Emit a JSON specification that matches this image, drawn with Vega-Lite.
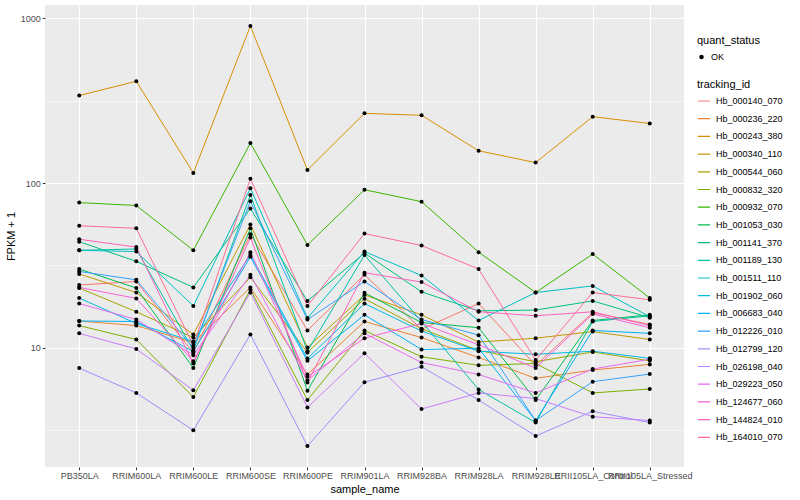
{
"$schema": "https://vega.github.io/schema/vega-lite/v6.json",
"autosize": {"type": "none"},
"padding": {"left": 45, "top": 5, "right": 116, "bottom": 33},
"width": 639,
"height": 462,
"background": "white",
"config": {
  "view": {"fill": "#EBEBEB", "stroke": null},
  "font": "Liberation Sans",
  "axis": {"domain": false, "gridColor": "white", "gridWidth": 1.1, "tickColor": "#333333", "tickSize": 2.75, "labelColor": "#4D4D4D", "labelFontSize": 9, "labelPadding": 2, "titleFontSize": 11, "titleFontWeight": "normal", "titleColor": "black"},
  "legend": {"titleFontSize": 11, "titleFontWeight": "normal", "titleColor": "black", "labelFontSize": 9, "labelColor": "black", "padding": 0, "titlePadding": 4, "clipHeight": 14, "rowPadding": 3.7, "labelOffset": 5}
},
"datasets": {
"rows": [
{"tracking_id":"Hb_000140_070","sample_name":"PB350LA","fpkm":24,"quant_status":"OK"},
{"tracking_id":"Hb_000140_070","sample_name":"RRIM600LA","fpkm":25.2,"quant_status":"OK"},
{"tracking_id":"Hb_000140_070","sample_name":"RRIM600LE","fpkm":9.3,"quant_status":"OK"},
{"tracking_id":"Hb_000140_070","sample_name":"RRIM600SE","fpkm":48.9,"quant_status":"OK"},
{"tracking_id":"Hb_000140_070","sample_name":"RRIM600PE","fpkm":12.7,"quant_status":"OK"},
{"tracking_id":"Hb_000140_070","sample_name":"RRIM901LA","fpkm":27.7,"quant_status":"OK"},
{"tracking_id":"Hb_000140_070","sample_name":"RRIM928BA","fpkm":12.9,"quant_status":"OK"},
{"tracking_id":"Hb_000140_070","sample_name":"RRIM928LA","fpkm":18.5,"quant_status":"OK"},
{"tracking_id":"Hb_000140_070","sample_name":"RRIM928LE","fpkm":7.8,"quant_status":"OK"},
{"tracking_id":"Hb_000140_070","sample_name":"RRII105LA_Control","fpkm":16.3,"quant_status":"OK"},
{"tracking_id":"Hb_000140_070","sample_name":"RRII105LA_Stressed","fpkm":13.8,"quant_status":"OK"},
{"tracking_id":"Hb_000236_220","sample_name":"PB350LA","fpkm":14.5,"quant_status":"OK"},
{"tracking_id":"Hb_000236_220","sample_name":"RRIM600LA","fpkm":13.6,"quant_status":"OK"},
{"tracking_id":"Hb_000236_220","sample_name":"RRIM600LE","fpkm":10.7,"quant_status":"OK"},
{"tracking_id":"Hb_000236_220","sample_name":"RRIM600SE","fpkm":23.2,"quant_status":"OK"},
{"tracking_id":"Hb_000236_220","sample_name":"RRIM600PE","fpkm":6.86,"quant_status":"OK"},
{"tracking_id":"Hb_000236_220","sample_name":"RRIM901LA","fpkm":14.4,"quant_status":"OK"},
{"tracking_id":"Hb_000236_220","sample_name":"RRIM928BA","fpkm":11.5,"quant_status":"OK"},
{"tracking_id":"Hb_000236_220","sample_name":"RRIM928LA","fpkm":8.7,"quant_status":"OK"},
{"tracking_id":"Hb_000236_220","sample_name":"RRIM928LE","fpkm":6.5,"quant_status":"OK"},
{"tracking_id":"Hb_000236_220","sample_name":"RRII105LA_Control","fpkm":7.3,"quant_status":"OK"},
{"tracking_id":"Hb_000236_220","sample_name":"RRII105LA_Stressed","fpkm":7.9,"quant_status":"OK"},
{"tracking_id":"Hb_000243_380","sample_name":"PB350LA","fpkm":340,"quant_status":"OK"},
{"tracking_id":"Hb_000243_380","sample_name":"RRIM600LA","fpkm":415,"quant_status":"OK"},
{"tracking_id":"Hb_000243_380","sample_name":"RRIM600LE","fpkm":115,"quant_status":"OK"},
{"tracking_id":"Hb_000243_380","sample_name":"RRIM600SE","fpkm":900,"quant_status":"OK"},
{"tracking_id":"Hb_000243_380","sample_name":"RRIM600PE","fpkm":120,"quant_status":"OK"},
{"tracking_id":"Hb_000243_380","sample_name":"RRIM901LA","fpkm":265,"quant_status":"OK"},
{"tracking_id":"Hb_000243_380","sample_name":"RRIM928BA","fpkm":258,"quant_status":"OK"},
{"tracking_id":"Hb_000243_380","sample_name":"RRIM928LA","fpkm":157,"quant_status":"OK"},
{"tracking_id":"Hb_000243_380","sample_name":"RRIM928LE","fpkm":133,"quant_status":"OK"},
{"tracking_id":"Hb_000243_380","sample_name":"RRII105LA_Control","fpkm":253,"quant_status":"OK"},
{"tracking_id":"Hb_000243_380","sample_name":"RRII105LA_Stressed","fpkm":230,"quant_status":"OK"},
{"tracking_id":"Hb_000340_110","sample_name":"PB350LA","fpkm":28,"quant_status":"OK"},
{"tracking_id":"Hb_000340_110","sample_name":"RRIM600LA","fpkm":21.6,"quant_status":"OK"},
{"tracking_id":"Hb_000340_110","sample_name":"RRIM600LE","fpkm":12.0,"quant_status":"OK"},
{"tracking_id":"Hb_000340_110","sample_name":"RRIM600SE","fpkm":55.9,"quant_status":"OK"},
{"tracking_id":"Hb_000340_110","sample_name":"RRIM600PE","fpkm":10,"quant_status":"OK"},
{"tracking_id":"Hb_000340_110","sample_name":"RRIM901LA","fpkm":20.9,"quant_status":"OK"},
{"tracking_id":"Hb_000340_110","sample_name":"RRIM928BA","fpkm":15.8,"quant_status":"OK"},
{"tracking_id":"Hb_000340_110","sample_name":"RRIM928LA","fpkm":10.8,"quant_status":"OK"},
{"tracking_id":"Hb_000340_110","sample_name":"RRIM928LE","fpkm":11.4,"quant_status":"OK"},
{"tracking_id":"Hb_000340_110","sample_name":"RRII105LA_Control","fpkm":12.5,"quant_status":"OK"},
{"tracking_id":"Hb_000340_110","sample_name":"RRII105LA_Stressed","fpkm":11.2,"quant_status":"OK"},
{"tracking_id":"Hb_000544_060","sample_name":"PB350LA","fpkm":23,"quant_status":"OK"},
{"tracking_id":"Hb_000544_060","sample_name":"RRIM600LA","fpkm":16.5,"quant_status":"OK"},
{"tracking_id":"Hb_000544_060","sample_name":"RRIM600LE","fpkm":11.5,"quant_status":"OK"},
{"tracking_id":"Hb_000544_060","sample_name":"RRIM600SE","fpkm":26.7,"quant_status":"OK"},
{"tracking_id":"Hb_000544_060","sample_name":"RRIM600PE","fpkm":9.33,"quant_status":"OK"},
{"tracking_id":"Hb_000544_060","sample_name":"RRIM901LA","fpkm":19.8,"quant_status":"OK"},
{"tracking_id":"Hb_000544_060","sample_name":"RRIM928BA","fpkm":13.0,"quant_status":"OK"},
{"tracking_id":"Hb_000544_060","sample_name":"RRIM928LA","fpkm":9.6,"quant_status":"OK"},
{"tracking_id":"Hb_000544_060","sample_name":"RRIM928LE","fpkm":8.2,"quant_status":"OK"},
{"tracking_id":"Hb_000544_060","sample_name":"RRII105LA_Control","fpkm":9.4,"quant_status":"OK"},
{"tracking_id":"Hb_000544_060","sample_name":"RRII105LA_Stressed","fpkm":8.3,"quant_status":"OK"},
{"tracking_id":"Hb_000832_320","sample_name":"PB350LA","fpkm":13.6,"quant_status":"OK"},
{"tracking_id":"Hb_000832_320","sample_name":"RRIM600LA","fpkm":11.2,"quant_status":"OK"},
{"tracking_id":"Hb_000832_320","sample_name":"RRIM600LE","fpkm":5.0,"quant_status":"OK"},
{"tracking_id":"Hb_000832_320","sample_name":"RRIM600SE","fpkm":22.5,"quant_status":"OK"},
{"tracking_id":"Hb_000832_320","sample_name":"RRIM600PE","fpkm":4.8,"quant_status":"OK"},
{"tracking_id":"Hb_000832_320","sample_name":"RRIM901LA","fpkm":12.7,"quant_status":"OK"},
{"tracking_id":"Hb_000832_320","sample_name":"RRIM928BA","fpkm":8.79,"quant_status":"OK"},
{"tracking_id":"Hb_000832_320","sample_name":"RRIM928LA","fpkm":7.8,"quant_status":"OK"},
{"tracking_id":"Hb_000832_320","sample_name":"RRIM928LE","fpkm":8.0,"quant_status":"OK"},
{"tracking_id":"Hb_000832_320","sample_name":"RRII105LA_Control","fpkm":5.3,"quant_status":"OK"},
{"tracking_id":"Hb_000832_320","sample_name":"RRII105LA_Stressed","fpkm":5.6,"quant_status":"OK"},
{"tracking_id":"Hb_000932_070","sample_name":"PB350LA","fpkm":76,"quant_status":"OK"},
{"tracking_id":"Hb_000932_070","sample_name":"RRIM600LA","fpkm":73,"quant_status":"OK"},
{"tracking_id":"Hb_000932_070","sample_name":"RRIM600LE","fpkm":39,"quant_status":"OK"},
{"tracking_id":"Hb_000932_070","sample_name":"RRIM600SE","fpkm":175,"quant_status":"OK"},
{"tracking_id":"Hb_000932_070","sample_name":"RRIM600PE","fpkm":42,"quant_status":"OK"},
{"tracking_id":"Hb_000932_070","sample_name":"RRIM901LA","fpkm":91,"quant_status":"OK"},
{"tracking_id":"Hb_000932_070","sample_name":"RRIM928BA","fpkm":77,"quant_status":"OK"},
{"tracking_id":"Hb_000932_070","sample_name":"RRIM928LA","fpkm":38,"quant_status":"OK"},
{"tracking_id":"Hb_000932_070","sample_name":"RRIM928LE","fpkm":21.6,"quant_status":"OK"},
{"tracking_id":"Hb_000932_070","sample_name":"RRII105LA_Control","fpkm":37,"quant_status":"OK"},
{"tracking_id":"Hb_000932_070","sample_name":"RRII105LA_Stressed","fpkm":20,"quant_status":"OK"},
{"tracking_id":"Hb_001053_030","sample_name":"PB350LA","fpkm":30,"quant_status":"OK"},
{"tracking_id":"Hb_001053_030","sample_name":"RRIM600LA","fpkm":23,"quant_status":"OK"},
{"tracking_id":"Hb_001053_030","sample_name":"RRIM600LE","fpkm":7.5,"quant_status":"OK"},
{"tracking_id":"Hb_001053_030","sample_name":"RRIM600SE","fpkm":53,"quant_status":"OK"},
{"tracking_id":"Hb_001053_030","sample_name":"RRIM600PE","fpkm":5.47,"quant_status":"OK"},
{"tracking_id":"Hb_001053_030","sample_name":"RRIM901LA","fpkm":21.5,"quant_status":"OK"},
{"tracking_id":"Hb_001053_030","sample_name":"RRIM928BA","fpkm":14.2,"quant_status":"OK"},
{"tracking_id":"Hb_001053_030","sample_name":"RRIM928LA","fpkm":13.2,"quant_status":"OK"},
{"tracking_id":"Hb_001053_030","sample_name":"RRIM928LE","fpkm":4.8,"quant_status":"OK"},
{"tracking_id":"Hb_001053_030","sample_name":"RRII105LA_Control","fpkm":14.6,"quant_status":"OK"},
{"tracking_id":"Hb_001053_030","sample_name":"RRII105LA_Stressed","fpkm":15.8,"quant_status":"OK"},
{"tracking_id":"Hb_001141_370","sample_name":"PB350LA","fpkm":44,"quant_status":"OK"},
{"tracking_id":"Hb_001141_370","sample_name":"RRIM600LA","fpkm":33.4,"quant_status":"OK"},
{"tracking_id":"Hb_001141_370","sample_name":"RRIM600LE","fpkm":23.2,"quant_status":"OK"},
{"tracking_id":"Hb_001141_370","sample_name":"RRIM600SE","fpkm":70,"quant_status":"OK"},
{"tracking_id":"Hb_001141_370","sample_name":"RRIM600PE","fpkm":19.2,"quant_status":"OK"},
{"tracking_id":"Hb_001141_370","sample_name":"RRIM901LA","fpkm":37.5,"quant_status":"OK"},
{"tracking_id":"Hb_001141_370","sample_name":"RRIM928BA","fpkm":21.8,"quant_status":"OK"},
{"tracking_id":"Hb_001141_370","sample_name":"RRIM928LA","fpkm":16.7,"quant_status":"OK"},
{"tracking_id":"Hb_001141_370","sample_name":"RRIM928LE","fpkm":16.9,"quant_status":"OK"},
{"tracking_id":"Hb_001141_370","sample_name":"RRII105LA_Control","fpkm":19.2,"quant_status":"OK"},
{"tracking_id":"Hb_001141_370","sample_name":"RRII105LA_Stressed","fpkm":15.2,"quant_status":"OK"},
{"tracking_id":"Hb_001189_130","sample_name":"PB350LA","fpkm":39,"quant_status":"OK"},
{"tracking_id":"Hb_001189_130","sample_name":"RRIM600LA","fpkm":39.7,"quant_status":"OK"},
{"tracking_id":"Hb_001189_130","sample_name":"RRIM600LE","fpkm":9.6,"quant_status":"OK"},
{"tracking_id":"Hb_001189_130","sample_name":"RRIM600SE","fpkm":84.6,"quant_status":"OK"},
{"tracking_id":"Hb_001189_130","sample_name":"RRIM600PE","fpkm":9.5,"quant_status":"OK"},
{"tracking_id":"Hb_001189_130","sample_name":"RRIM901LA","fpkm":36.5,"quant_status":"OK"},
{"tracking_id":"Hb_001189_130","sample_name":"RRIM928BA","fpkm":14.4,"quant_status":"OK"},
{"tracking_id":"Hb_001189_130","sample_name":"RRIM928LA","fpkm":5.56,"quant_status":"OK"},
{"tracking_id":"Hb_001189_130","sample_name":"RRIM928LE","fpkm":3.5,"quant_status":"OK"},
{"tracking_id":"Hb_001189_130","sample_name":"RRII105LA_Control","fpkm":14.4,"quant_status":"OK"},
{"tracking_id":"Hb_001189_130","sample_name":"RRII105LA_Stressed","fpkm":15.6,"quant_status":"OK"},
{"tracking_id":"Hb_001511_110","sample_name":"PB350LA","fpkm":39,"quant_status":"OK"},
{"tracking_id":"Hb_001511_110","sample_name":"RRIM600LA","fpkm":38.3,"quant_status":"OK"},
{"tracking_id":"Hb_001511_110","sample_name":"RRIM600LE","fpkm":17.9,"quant_status":"OK"},
{"tracking_id":"Hb_001511_110","sample_name":"RRIM600SE","fpkm":93,"quant_status":"OK"},
{"tracking_id":"Hb_001511_110","sample_name":"RRIM600PE","fpkm":15.1,"quant_status":"OK"},
{"tracking_id":"Hb_001511_110","sample_name":"RRIM901LA","fpkm":38.3,"quant_status":"OK"},
{"tracking_id":"Hb_001511_110","sample_name":"RRIM928BA","fpkm":27.4,"quant_status":"OK"},
{"tracking_id":"Hb_001511_110","sample_name":"RRIM928LA","fpkm":14.6,"quant_status":"OK"},
{"tracking_id":"Hb_001511_110","sample_name":"RRIM928LE","fpkm":21.6,"quant_status":"OK"},
{"tracking_id":"Hb_001511_110","sample_name":"RRII105LA_Control","fpkm":23.7,"quant_status":"OK"},
{"tracking_id":"Hb_001511_110","sample_name":"RRII105LA_Stressed","fpkm":15.4,"quant_status":"OK"},
{"tracking_id":"Hb_001902_060","sample_name":"PB350LA","fpkm":20,"quant_status":"OK"},
{"tracking_id":"Hb_001902_060","sample_name":"RRIM600LA","fpkm":14,"quant_status":"OK"},
{"tracking_id":"Hb_001902_060","sample_name":"RRIM600LE","fpkm":10.9,"quant_status":"OK"},
{"tracking_id":"Hb_001902_060","sample_name":"RRIM600SE","fpkm":36.7,"quant_status":"OK"},
{"tracking_id":"Hb_001902_060","sample_name":"RRIM600PE","fpkm":8.58,"quant_status":"OK"},
{"tracking_id":"Hb_001902_060","sample_name":"RRIM901LA","fpkm":18.5,"quant_status":"OK"},
{"tracking_id":"Hb_001902_060","sample_name":"RRIM928BA","fpkm":12.6,"quant_status":"OK"},
{"tracking_id":"Hb_001902_060","sample_name":"RRIM928LA","fpkm":9.5,"quant_status":"OK"},
{"tracking_id":"Hb_001902_060","sample_name":"RRIM928LE","fpkm":9.1,"quant_status":"OK"},
{"tracking_id":"Hb_001902_060","sample_name":"RRII105LA_Control","fpkm":9.5,"quant_status":"OK"},
{"tracking_id":"Hb_001902_060","sample_name":"RRII105LA_Stressed","fpkm":8.6,"quant_status":"OK"},
{"tracking_id":"Hb_006683_040","sample_name":"PB350LA","fpkm":14.5,"quant_status":"OK"},
{"tracking_id":"Hb_006683_040","sample_name":"RRIM600LA","fpkm":14.4,"quant_status":"OK"},
{"tracking_id":"Hb_006683_040","sample_name":"RRIM600LE","fpkm":9.46,"quant_status":"OK"},
{"tracking_id":"Hb_006683_040","sample_name":"RRIM600SE","fpkm":35.6,"quant_status":"OK"},
{"tracking_id":"Hb_006683_040","sample_name":"RRIM600PE","fpkm":8.3,"quant_status":"OK"},
{"tracking_id":"Hb_006683_040","sample_name":"RRIM901LA","fpkm":15.8,"quant_status":"OK"},
{"tracking_id":"Hb_006683_040","sample_name":"RRIM928BA","fpkm":9.73,"quant_status":"OK"},
{"tracking_id":"Hb_006683_040","sample_name":"RRIM928LA","fpkm":9.9,"quant_status":"OK"},
{"tracking_id":"Hb_006683_040","sample_name":"RRIM928LE","fpkm":3.6,"quant_status":"OK"},
{"tracking_id":"Hb_006683_040","sample_name":"RRII105LA_Control","fpkm":12.7,"quant_status":"OK"},
{"tracking_id":"Hb_006683_040","sample_name":"RRII105LA_Stressed","fpkm":12.2,"quant_status":"OK"},
{"tracking_id":"Hb_012226_010","sample_name":"PB350LA","fpkm":29,"quant_status":"OK"},
{"tracking_id":"Hb_012226_010","sample_name":"RRIM600LA","fpkm":25.8,"quant_status":"OK"},
{"tracking_id":"Hb_012226_010","sample_name":"RRIM600LE","fpkm":9.96,"quant_status":"OK"},
{"tracking_id":"Hb_012226_010","sample_name":"RRIM600SE","fpkm":77.5,"quant_status":"OK"},
{"tracking_id":"Hb_012226_010","sample_name":"RRIM600PE","fpkm":14.8,"quant_status":"OK"},
{"tracking_id":"Hb_012226_010","sample_name":"RRIM901LA","fpkm":25.2,"quant_status":"OK"},
{"tracking_id":"Hb_012226_010","sample_name":"RRIM928BA","fpkm":14.8,"quant_status":"OK"},
{"tracking_id":"Hb_012226_010","sample_name":"RRIM928LA","fpkm":11.9,"quant_status":"OK"},
{"tracking_id":"Hb_012226_010","sample_name":"RRIM928LE","fpkm":3.6,"quant_status":"OK"},
{"tracking_id":"Hb_012226_010","sample_name":"RRII105LA_Control","fpkm":6.2,"quant_status":"OK"},
{"tracking_id":"Hb_012226_010","sample_name":"RRII105LA_Stressed","fpkm":6.9,"quant_status":"OK"},
{"tracking_id":"Hb_012799_120","sample_name":"PB350LA","fpkm":7.5,"quant_status":"OK"},
{"tracking_id":"Hb_012799_120","sample_name":"RRIM600LA","fpkm":5.3,"quant_status":"OK"},
{"tracking_id":"Hb_012799_120","sample_name":"RRIM600LE","fpkm":3.14,"quant_status":"OK"},
{"tracking_id":"Hb_012799_120","sample_name":"RRIM600SE","fpkm":12,"quant_status":"OK"},
{"tracking_id":"Hb_012799_120","sample_name":"RRIM600PE","fpkm":2.52,"quant_status":"OK"},
{"tracking_id":"Hb_012799_120","sample_name":"RRIM901LA","fpkm":6.16,"quant_status":"OK"},
{"tracking_id":"Hb_012799_120","sample_name":"RRIM928BA","fpkm":7.64,"quant_status":"OK"},
{"tracking_id":"Hb_012799_120","sample_name":"RRIM928LA","fpkm":4.8,"quant_status":"OK"},
{"tracking_id":"Hb_012799_120","sample_name":"RRIM928LE","fpkm":2.9,"quant_status":"OK"},
{"tracking_id":"Hb_012799_120","sample_name":"RRII105LA_Control","fpkm":4.1,"quant_status":"OK"},
{"tracking_id":"Hb_012799_120","sample_name":"RRII105LA_Stressed","fpkm":3.5,"quant_status":"OK"},
{"tracking_id":"Hb_026198_040","sample_name":"PB350LA","fpkm":12.2,"quant_status":"OK"},
{"tracking_id":"Hb_026198_040","sample_name":"RRIM600LA","fpkm":9.8,"quant_status":"OK"},
{"tracking_id":"Hb_026198_040","sample_name":"RRIM600LE","fpkm":5.5,"quant_status":"OK"},
{"tracking_id":"Hb_026198_040","sample_name":"RRIM600SE","fpkm":21.6,"quant_status":"OK"},
{"tracking_id":"Hb_026198_040","sample_name":"RRIM600PE","fpkm":4.33,"quant_status":"OK"},
{"tracking_id":"Hb_026198_040","sample_name":"RRIM901LA","fpkm":9.23,"quant_status":"OK"},
{"tracking_id":"Hb_026198_040","sample_name":"RRIM928BA","fpkm":4.23,"quant_status":"OK"},
{"tracking_id":"Hb_026198_040","sample_name":"RRIM928LA","fpkm":5.3,"quant_status":"OK"},
{"tracking_id":"Hb_026198_040","sample_name":"RRIM928LE","fpkm":4.9,"quant_status":"OK"},
{"tracking_id":"Hb_026198_040","sample_name":"RRII105LA_Control","fpkm":3.8,"quant_status":"OK"},
{"tracking_id":"Hb_026198_040","sample_name":"RRII105LA_Stressed","fpkm":3.6,"quant_status":"OK"},
{"tracking_id":"Hb_029223_050","sample_name":"PB350LA","fpkm":18.5,"quant_status":"OK"},
{"tracking_id":"Hb_029223_050","sample_name":"RRIM600LA","fpkm":14.8,"quant_status":"OK"},
{"tracking_id":"Hb_029223_050","sample_name":"RRIM600LE","fpkm":8.98,"quant_status":"OK"},
{"tracking_id":"Hb_029223_050","sample_name":"RRIM600SE","fpkm":27.7,"quant_status":"OK"},
{"tracking_id":"Hb_029223_050","sample_name":"RRIM600PE","fpkm":6.31,"quant_status":"OK"},
{"tracking_id":"Hb_029223_050","sample_name":"RRIM901LA","fpkm":12.2,"quant_status":"OK"},
{"tracking_id":"Hb_029223_050","sample_name":"RRIM928BA","fpkm":8.11,"quant_status":"OK"},
{"tracking_id":"Hb_029223_050","sample_name":"RRIM928LA","fpkm":6.86,"quant_status":"OK"},
{"tracking_id":"Hb_029223_050","sample_name":"RRIM928LE","fpkm":5.3,"quant_status":"OK"},
{"tracking_id":"Hb_029223_050","sample_name":"RRII105LA_Control","fpkm":7.4,"quant_status":"OK"},
{"tracking_id":"Hb_029223_050","sample_name":"RRII105LA_Stressed","fpkm":8.5,"quant_status":"OK"},
{"tracking_id":"Hb_124677_060","sample_name":"PB350LA","fpkm":23.2,"quant_status":"OK"},
{"tracking_id":"Hb_124677_060","sample_name":"RRIM600LA","fpkm":19.9,"quant_status":"OK"},
{"tracking_id":"Hb_124677_060","sample_name":"RRIM600LE","fpkm":8.26,"quant_status":"OK"},
{"tracking_id":"Hb_124677_060","sample_name":"RRIM600SE","fpkm":38,"quant_status":"OK"},
{"tracking_id":"Hb_124677_060","sample_name":"RRIM600PE","fpkm":6.64,"quant_status":"OK"},
{"tracking_id":"Hb_124677_060","sample_name":"RRIM901LA","fpkm":11.4,"quant_status":"OK"},
{"tracking_id":"Hb_124677_060","sample_name":"RRIM928BA","fpkm":14.0,"quant_status":"OK"},
{"tracking_id":"Hb_124677_060","sample_name":"RRIM928LA","fpkm":10.4,"quant_status":"OK"},
{"tracking_id":"Hb_124677_060","sample_name":"RRIM928LE","fpkm":7.5,"quant_status":"OK"},
{"tracking_id":"Hb_124677_060","sample_name":"RRII105LA_Control","fpkm":16.0,"quant_status":"OK"},
{"tracking_id":"Hb_124677_060","sample_name":"RRII105LA_Stressed","fpkm":13.2,"quant_status":"OK"},
{"tracking_id":"Hb_144824_010","sample_name":"PB350LA","fpkm":45.5,"quant_status":"OK"},
{"tracking_id":"Hb_144824_010","sample_name":"RRIM600LA","fpkm":40.8,"quant_status":"OK"},
{"tracking_id":"Hb_144824_010","sample_name":"RRIM600LE","fpkm":8.0,"quant_status":"OK"},
{"tracking_id":"Hb_144824_010","sample_name":"RRIM600SE","fpkm":46.6,"quant_status":"OK"},
{"tracking_id":"Hb_144824_010","sample_name":"RRIM600PE","fpkm":6.14,"quant_status":"OK"},
{"tracking_id":"Hb_144824_010","sample_name":"RRIM901LA","fpkm":28.5,"quant_status":"OK"},
{"tracking_id":"Hb_144824_010","sample_name":"RRIM928BA","fpkm":25,"quant_status":"OK"},
{"tracking_id":"Hb_144824_010","sample_name":"RRIM928LA","fpkm":16.5,"quant_status":"OK"},
{"tracking_id":"Hb_144824_010","sample_name":"RRIM928LE","fpkm":15.6,"quant_status":"OK"},
{"tracking_id":"Hb_144824_010","sample_name":"RRII105LA_Control","fpkm":16.5,"quant_status":"OK"},
{"tracking_id":"Hb_144824_010","sample_name":"RRII105LA_Stressed","fpkm":13.6,"quant_status":"OK"},
{"tracking_id":"Hb_164010_070","sample_name":"PB350LA","fpkm":55,"quant_status":"OK"},
{"tracking_id":"Hb_164010_070","sample_name":"RRIM600LA","fpkm":53,"quant_status":"OK"},
{"tracking_id":"Hb_164010_070","sample_name":"RRIM600LE","fpkm":10.3,"quant_status":"OK"},
{"tracking_id":"Hb_164010_070","sample_name":"RRIM600SE","fpkm":106,"quant_status":"OK"},
{"tracking_id":"Hb_164010_070","sample_name":"RRIM600PE","fpkm":17.9,"quant_status":"OK"},
{"tracking_id":"Hb_164010_070","sample_name":"RRIM901LA","fpkm":49.3,"quant_status":"OK"},
{"tracking_id":"Hb_164010_070","sample_name":"RRIM928BA","fpkm":41.7,"quant_status":"OK"},
{"tracking_id":"Hb_164010_070","sample_name":"RRIM928LA","fpkm":30,"quant_status":"OK"},
{"tracking_id":"Hb_164010_070","sample_name":"RRIM928LE","fpkm":8.4,"quant_status":"OK"},
{"tracking_id":"Hb_164010_070","sample_name":"RRII105LA_Control","fpkm":21.6,"quant_status":"OK"},
{"tracking_id":"Hb_164010_070","sample_name":"RRII105LA_Stressed","fpkm":19.5,"quant_status":"OK"}
]
},
"data": {"name": "rows"},
"encoding": {
  "x": {"field": "sample_name", "type": "nominal",
        "sort": ["PB350LA","RRIM600LA","RRIM600LE","RRIM600SE","RRIM600PE","RRIM901LA","RRIM928BA","RRIM928LA","RRIM928LE","RRII105LA_Control","RRII105LA_Stressed"],
        "scale": {"type": "point", "padding": 0.6},
        "axis": {"title": "sample_name", "labelAngle": 0, "grid": true, "labelOverlap": false, "labelBound": false, "titlePadding": 3}},
  "y": {"field": "fpkm", "type": "quantitative",
        "scale": {"type": "log", "domain": [1.88, 1207], "nice": false, "zero": false},
        "axis": {"title": "FPKM + 1", "values": [3.1623, 10, 31.623, 100, 316.23, 1000],
                 "labelExpr": "(datum.value == 10 || datum.value == 100 || datum.value == 1000) ? '' + datum.value : ''",
                 "gridWidth": {"condition": {"test": "datum.value == 10 || datum.value == 100 || datum.value == 1000", "value": 1.1}, "value": 0.5},
                 "tickOpacity": {"condition": {"test": "datum.value == 10 || datum.value == 100 || datum.value == 1000", "value": 1}, "value": 0},
                 "titlePadding": 4}}
},
"layer": [
  {"mark": {"type": "line", "strokeWidth": 1},
   "encoding": {
     "color": {"field": "tracking_id", "type": "nominal",
       "scale": {"domain": ["Hb_000140_070","Hb_000236_220","Hb_000243_380","Hb_000340_110","Hb_000544_060","Hb_000832_320","Hb_000932_070","Hb_001053_030","Hb_001141_370","Hb_001189_130","Hb_001511_110","Hb_001902_060","Hb_006683_040","Hb_012226_010","Hb_012799_120","Hb_026198_040","Hb_029223_050","Hb_124677_060","Hb_144824_010","Hb_164010_070"],
                 "range": ["#F8766D","#EA8331","#D89000","#C09B00","#A3A500","#7CAE00","#39B600","#00BB4E","#00BF7D","#00C1A3","#00BFC4","#00BAE0","#00B0F6","#35A2FF","#9590FF","#C77CFF","#E76BF3","#FA62DB","#FF62BC","#FF6C91"]},
       "legend": {"title": "tracking_id", "orient": "none", "legendX": 652, "legendY": 74, "symbolType": "stroke", "symbolSize": 150, "symbolStrokeWidth": 1.2}}
   }},
  {"mark": {"type": "point", "filled": true, "size": 16, "opacity": 1, "color": "black"},
   "encoding": {
     "shape": {"field": "quant_status", "type": "nominal", "scale": {"range": ["circle"]},
       "legend": {"title": "quant_status", "orient": "none", "legendX": 652, "legendY": 30, "symbolFillColor": "black", "symbolStrokeColor": "black", "symbolSize": 20}}
   }}
]
}
